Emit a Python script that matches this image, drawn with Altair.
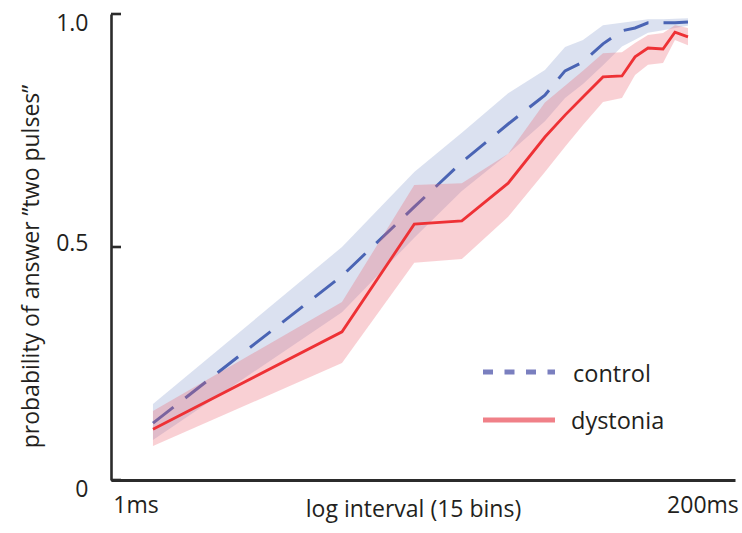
import altair as alt
import pandas as pd

# ---- data (15 log-spaced bins) ----
interval_ms = [1.0, 6.5, 13.3, 21.3, 33.7, 48.5, 59.2, 70.7, 86.2, 104.0, 118.4, 134.6, 156.2, 175.8, 200.0]

control_mean = [0.122, 0.438, 0.586, 0.682, 0.764, 0.826, 0.878, 0.897, 0.936, 0.964, 0.970, 0.981, 0.981, 0.981, 0.983]
control_lo = [0.086, 0.360, 0.520, 0.620, 0.700, 0.770, 0.820, 0.850, 0.890, 0.930, 0.945, 0.960, 0.965, 0.970, 0.975]
control_hi = [0.163, 0.500, 0.661, 0.745, 0.830, 0.880, 0.929, 0.944, 0.976, 0.981, 0.985, 0.989, 0.989, 0.990, 0.991]

dystonia_mean = [0.109, 0.318, 0.549, 0.556, 0.637, 0.736, 0.783, 0.822, 0.865, 0.867, 0.908, 0.927, 0.925, 0.961, 0.951]
dystonia_lo = [0.073, 0.251, 0.466, 0.474, 0.565, 0.661, 0.715, 0.762, 0.811, 0.820, 0.869, 0.891, 0.895, 0.944, 0.933]
dystonia_hi = [0.148, 0.382, 0.633, 0.637, 0.700, 0.810, 0.846, 0.878, 0.916, 0.918, 0.938, 0.955, 0.959, 0.976, 0.970]

groups = ["control", "dystonia"]
x_tick_values = [1, 200]
x_tick_labels = ["1ms", "200ms"]
y_tick_values = [0, 0.5, 1]

FONT = "Open Sans"
TXT = "#231f20"
AXC = "#2b2b2b"

ctrl = pd.DataFrame({"ms": interval_ms, "mean": control_mean, "lo": control_lo, "hi": control_hi})
dyst = pd.DataFrame({"ms": interval_ms, "mean": dystonia_mean, "lo": dystonia_lo, "hi": dystonia_hi})

x_scale = alt.Scale(type="log", domain=[0.66, 318.6], nice=False)
y_scale = alt.Scale(domain=[0, 1], nice=False, zero=True)

x_axis = alt.Axis(
    values=x_tick_values,
    labelExpr=f"datum.value == {x_tick_values[0]} ? '{x_tick_labels[0]}' : '{x_tick_labels[1]}'",
    ticks=False, tickSize=0, grid=False, labelFlush=False,
    labelAlign="center", labelBaseline="alphabetic", labelPadding=32,
    labelOffset={"condition": {"test": "datum.value == 1", "value": -17.5}, "value": 14.5},
    domainColor=AXC, domainWidth=3,
    title="log interval (15 bins)", titleX=302, titleY=36,
    titleAlign="center", titleBaseline="alphabetic",
)
y_axis = alt.Axis(
    values=y_tick_values,
    labelExpr="datum.value == 0 ? '0' : format(datum.value, '.1f')",
    ticks=False, tickSize=0, grid=False,
    labelAlign="right", labelBaseline="middle", labelPadding=23,
    labelOffset={"condition": {"test": "datum.value == 0.5", "value": -4}, "value": 9.5},
    domainColor=AXC, domainWidth=2.6,
    title="probability of answer \u201dtwo pulses\u201d",
    titleAngle=270, titleX=-73, titleY=252,
    titleAlign="center", titleBaseline="alphabetic",
)

X = alt.X("ms:Q", scale=x_scale, axis=x_axis)

def band(df, color):
    return alt.Chart(df).mark_area(color=color, opacity=0.3, interpolate="linear").encode(
        x=X,
        y=alt.Y("lo:Q", scale=y_scale, axis=y_axis),
        y2="hi:Q",
    )

def line(df, color, width, dash=None):
    kw = dict(color=color, strokeWidth=width, strokeCap="butt", strokeJoin="miter")
    if dash:
        kw["strokeDash"] = dash
    return alt.Chart(df).mark_line(**kw).encode(
        x=X,
        y=alt.Y("mean:Q", scale=y_scale, axis=y_axis),
    )

ctrl_band = band(ctrl, "#879bcd")
ctrl_line = line(ctrl, "#4a64b4", 3, [26, 15])
dyst_band = band(dyst, "#eb6270")
dyst_line = line(dyst, "#ee3135", 2.8)

# inward ticks on the y axis
yticks = alt.Chart(pd.DataFrame({"v": y_tick_values})).mark_rule(color=AXC, strokeWidth=2.6).encode(
    y=alt.Y("v:Q", scale=y_scale, axis=y_axis),
    x=alt.value(0), x2=alt.value(10),
)

# legend
leg_df = pd.DataFrame({"label": groups})
leg_ctrl_line = alt.Chart(leg_df).transform_filter("datum.label == 'control'").mark_rule(
    color="#7a7fbf", strokeWidth=5, strokeDash=[10, 11.5], strokeCap="butt"
).encode(x=alt.value(372), x2=alt.value(444), y=alt.value(358))
leg_dyst_line = alt.Chart(leg_df).transform_filter("datum.label == 'dystonia'").mark_rule(
    color="#f08088", strokeWidth=5, strokeCap="butt"
).encode(x=alt.value(372), x2=alt.value(444), y=alt.value(406))
leg_ctrl_text = alt.Chart(leg_df).transform_filter("datum.label == 'control'").mark_text(
    align="left", baseline="alphabetic", font=FONT, fontSize=23.5, color=TXT
).encode(x=alt.value(462), y=alt.value(368), text="label:N")
leg_dyst_text = alt.Chart(leg_df).transform_filter("datum.label == 'dystonia'").mark_text(
    align="left", baseline="alphabetic", font=FONT, fontSize=23.5, color=TXT
).encode(x=alt.value(460), y=alt.value(415), text="label:N")

chart = alt.layer(
    ctrl_band, ctrl_line, dyst_band, dyst_line, yticks,
    leg_ctrl_line, leg_dyst_line, leg_ctrl_text, leg_dyst_text,
).properties(
    width=624, height=466,
    autosize=alt.AutoSizeParams(type="none"),
    padding={"left": 111, "top": 14, "right": 7, "bottom": 53},
).configure_view(stroke=None).configure_axis(
    labelFont=FONT, titleFont=FONT, labelFontSize=23, titleFontSize=23,
    labelColor=TXT, titleColor=TXT, titleFontWeight="normal",
)

chart.save("out.html", embed_options={"renderer": "svg", "actions": False})
